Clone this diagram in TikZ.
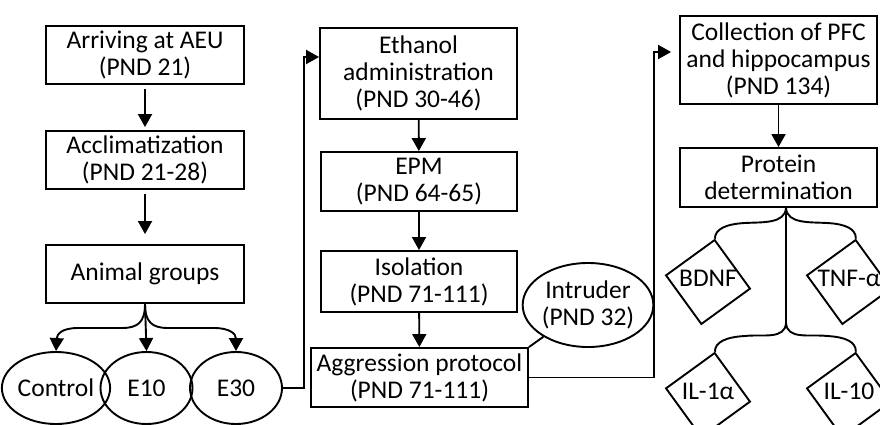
\documentclass[tikz,border=0pt]{standalone}
\usepackage{fontspec}
\setmainfont{Carlito}
\usetikzlibrary{shapes.geometric,arrows.meta}
\begin{document}
\begin{tikzpicture}[x=1pt,y=-1pt,
  font=\fontsize{25.5}{27}\selectfont,
  box/.style={draw, line width=1.9pt, rectangle, inner sep=0pt, align=center},
  oval/.style={draw, line width=1.9pt, ellipse, inner sep=0pt, align=center},
  dia/.style={draw, line width=1.9pt, regular polygon, regular polygon sides=4,
    shape border rotate=36, minimum size=85pt, inner sep=0pt},
  conn/.style={line width=1.9pt},
  arr/.style={conn, -{Triangle[length=13pt,width=14pt]}}]
\useasboundingbox (0,0) rectangle (880,425);

% left column
\node[box, minimum width=198pt, minimum height=58pt] (b1) at (145,55) {Arriving at AEU\\(PND 21)};
\node[box, minimum width=198pt, minimum height=58pt] (b2) at (145,160) {Acclimatization\\(PND 21-28)};
\node[box, minimum width=198pt, minimum height=58pt] (b3) at (145,274) {Animal groups};
\node[oval, minimum width=92pt, minimum height=72pt] (ctrl) at (56,388) {Control};
\node[oval, minimum width=92pt, minimum height=72pt] (e10) at (146.5,388) {E10};
\node[oval, minimum width=92pt, minimum height=72pt] (e30) at (236,388) {E30};

% middle column
\node[box, minimum width=197pt, minimum height=91pt] (eth) at (418.5,73.5) {Ethanol\\administration\\(PND 30-46)};
\node[box, minimum width=196pt, minimum height=59pt] (epm) at (419,181.5) {EPM\\(PND 64-65)};
\node[box, minimum width=196pt, minimum height=61pt] (iso) at (419,281.5) {Isolation\\(PND 71-111)};
\node[box, minimum width=217pt, minimum height=59pt] (agg) at (419.5,377.5) {Aggression protocol\\(PND 71-111)};
\node[oval, minimum width=114pt, minimum height=84pt] (intr) at (588,305) {Intruder\\(PND 32)};

% right column
\node[box, minimum width=197pt, minimum height=88pt] (coll) at (778.5,60) {Collection of PFC\\and hippocampus\\(PND 134)};
\node[box, minimum width=197pt, minimum height=59pt] (prot) at (778.5,177.5) {Protein\\determination};
\node[dia, label={[yshift=4pt]center:BDNF}] (d1) at (708,282) {};
\node[dia, label={[yshift=4pt]center:TNF-α}] (d2) at (849,282) {};
\node[dia, label={[yshift=4pt]center:IL-1α}] (d3) at (708,395) {};
\node[dia, label={[yshift=4pt]center:IL-10}] (d4) at (849,395) {};

% connectors left
\draw[arr, shorten <=4pt, shorten >=3pt] (b1) -- (b2);
\draw[arr, shorten <=4pt, shorten >=10pt] (b2) -- (b3);
\draw[arr] (b3.south) -- (e10.north);
\draw[arr] (b3.south) .. controls (145,322) and (138,328) .. (122,328)
  -- (78,328) .. controls (62,328) and (57,334) .. (ctrl.north);
\draw[arr] (b3.south) .. controls (145,322) and (152,328) .. (168,328)
  -- (214,328) .. controls (230,328) and (236,334) .. (e30.north);
\draw[arr] (e30.east) -- ++(21,0) |- ([yshift=16.5pt]eth.west);

% connectors middle
\draw[arr] (eth) -- (epm);
\draw[arr] (epm) -- (iso);
\draw[arr] (iso) -- (agg);
\draw[conn] (agg.north east) -- (intr);
\draw[arr, shorten >=8pt] (agg.east) -- ++(125,0) |- ([yshift=8pt]coll.west);

% connectors right
\draw[arr] (coll) -- (prot);
\coordinate (pj) at ([xshift=7.5pt]prot.south);
\coordinate (pk) at ([yshift=-115pt]pj);
\draw[conn] (pj) -- (pk);
\draw[conn] (pj) .. controls (785,224) and (762,222) .. (745,223)
  .. controls (726,224) and (715,229) .. (d1.81);
\draw[conn] (pj) .. controls (787,224) and (810,222) .. (827,223)
  .. controls (846,224) and (856,229) .. (d2.81);
\draw[conn] (pk) .. controls (785,340) and (762,334) .. (745,336)
  .. controls (726,337) and (715,342) .. (d3.81);
\draw[conn] (pk) .. controls (787,340) and (810,334) .. (827,336)
  .. controls (846,337) and (856,342) .. (d4.81);
\end{tikzpicture}
\end{document}
